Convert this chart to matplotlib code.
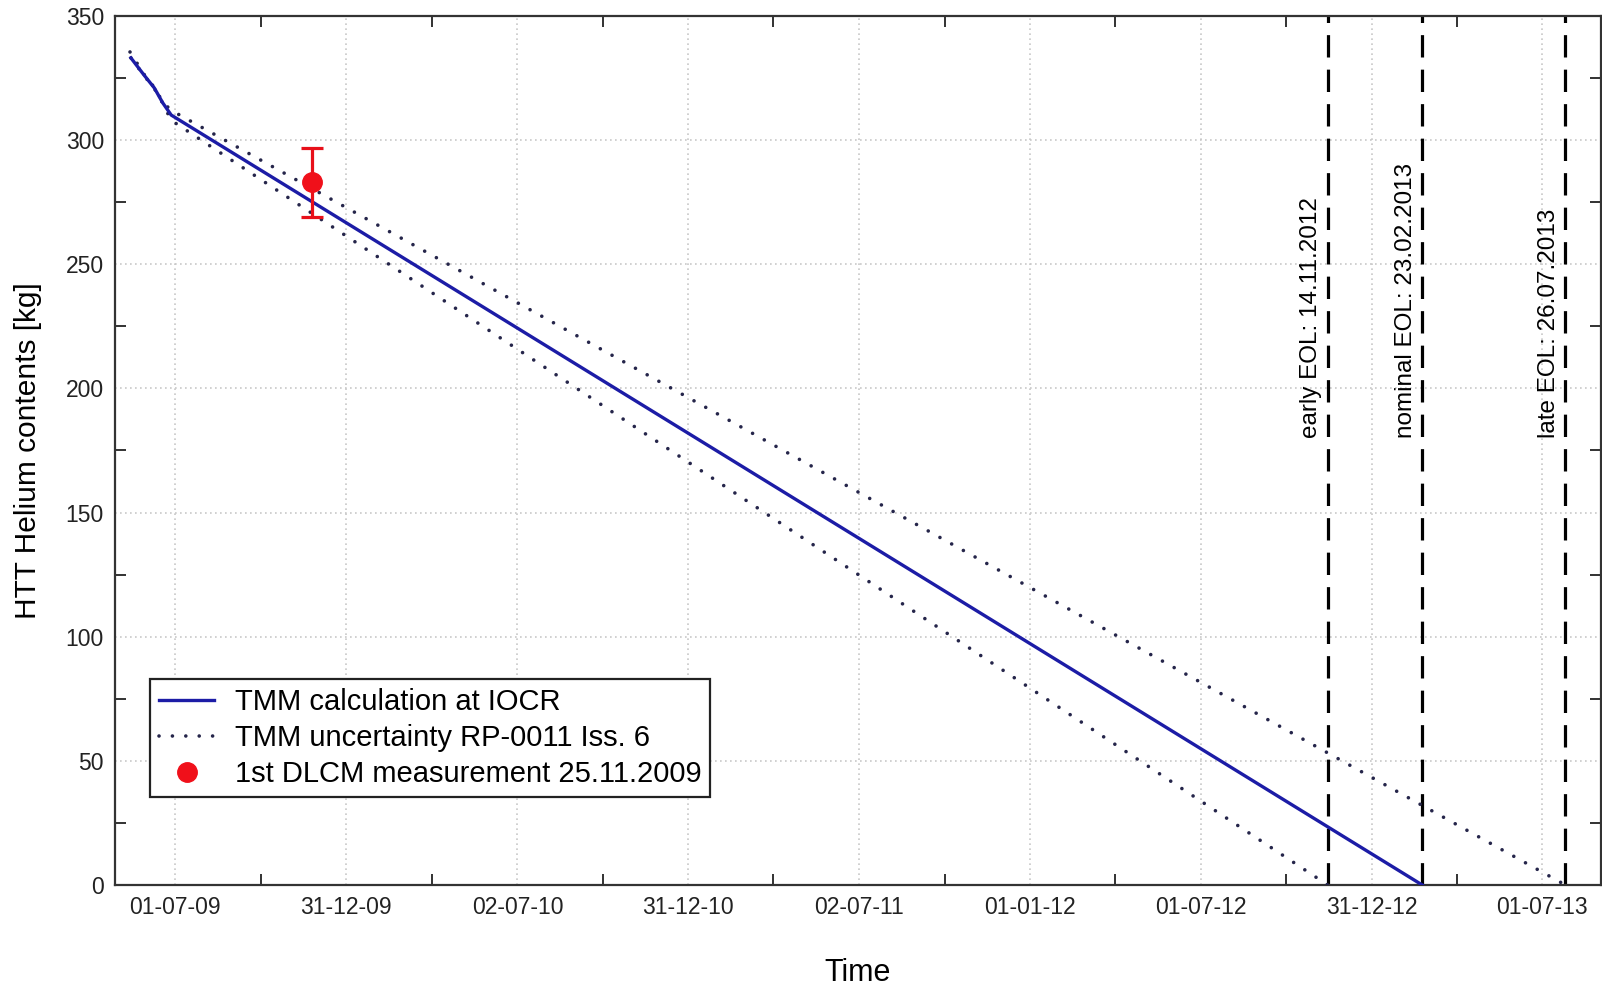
import matplotlib
matplotlib.use("Agg")
import matplotlib.pyplot as plt
import matplotlib.dates as mdates
import numpy as np
import pandas as pd

plt.rcParams["font.family"] = ["Liberation Sans", "DejaVu Sans"]

# TMM calculation (main line)
calc_dates = ["2009-05-15", "2009-05-29", "2009-06-09", "2009-06-18", "2009-06-27", "2013-02-23"]
calc_values = [333.1, 326.2, 321.0, 315.0, 310.1, 0.0]

# uncertainty band (dotted)
upper_dates = ["2009-05-14", "2009-05-29", "2009-06-09", "2009-06-18", "2009-06-27", "2013-07-26"]
upper_values = [335.5, 326.5, 321.2, 315.3, 312.0, 0.0]
lower_dates = ["2009-05-15", "2009-05-29", "2009-06-09", "2009-06-18", "2009-06-27", "2012-11-14"]
lower_values = [333.1, 326.0, 320.8, 314.8, 308.0, 0.0]

# DLCM measurement
meas_date = "2009-11-25"
meas_value = 283.0
meas_err = 14.0

# end of life markers
eol_dates = ["2012-11-14", "2013-02-23", "2013-07-26"]
eol_labels = ["early EOL: 14.11.2012", "nominal EOL: 23.02.2013", "late EOL: 26.07.2013"]

tick_dates = ["2009-07-01", "2009-12-31", "2010-07-02", "2010-12-31", "2011-07-02",
              "2012-01-01", "2012-07-01", "2012-12-31", "2013-07-01"]
tick_labels = ["01-07-09", "31-12-09", "02-07-10", "31-12-10", "02-07-11",
               "01-01-12", "01-07-12", "31-12-12", "01-07-13"]

fig = plt.figure(figsize=(16.02, 9.85), dpi=100)
ax = fig.add_axes([0.0718, 0.1015, 0.9276, 0.8823])

ax.plot(pd.to_datetime(calc_dates), calc_values, color="#1c1ca6", lw=2.4,
        label="TMM calculation at IOCR", zorder=4)
ax.plot(pd.to_datetime(upper_dates), upper_values, color="#25254a", lw=2.6,
        ls=(0, (0.01, 3.7)), dash_capstyle="round",
        label="TMM uncertainty RP-0011 Iss. 6", zorder=3)
ax.plot(pd.to_datetime(lower_dates), lower_values, color="#25254a", lw=2.6,
        ls=(0, (0.01, 3.7)), dash_capstyle="round", zorder=3)

ax.errorbar(pd.to_datetime([meas_date]), [meas_value], yerr=[meas_err], fmt="none",
            ecolor="#e8101a", elinewidth=2.3, capsize=8, capthick=2.3, zorder=5)
ax.plot(pd.to_datetime([meas_date]), [meas_value], "o", color="#f0101a", ms=14,
        label="1st DLCM measurement 25.11.2009", zorder=6)

for d, lab in zip(eol_dates, eol_labels):
    x = pd.to_datetime(d)
    ax.axvline(x, color="black", lw=2.3, ls=(0, (7, 3.8)), zorder=2)
    ax.annotate(lab, xy=(x, 180), xytext=(-4, 0), textcoords="offset points",
                rotation=90, ha="right", va="bottom", fontsize=17.5)

ax.set_xlim(pd.to_datetime("2009-04-28"), pd.to_datetime("2013-09-02"))
ax.set_ylim(0, 350)

tick_nums = mdates.date2num(pd.to_datetime(tick_dates))
ax.set_xticks(tick_nums, tick_labels)
ax.set_xticks((tick_nums[:-1] + tick_nums[1:]) / 2, minor=True)
ax.set_yticks(np.arange(0, 351, 50))
ax.set_yticks(np.arange(25, 350, 50), minor=True)

ax.tick_params(which="major", length=0, labelsize=16.5, pad=8, colors="#222222")
ax.tick_params(which="minor", direction="in", length=8, width=1.3,
               top=True, right=True, color="#222222")

ax.grid(True, which="major", color="#c8c8c8", ls=(0, (1, 2)), lw=1.2)
for s in ax.spines.values():
    s.set_linewidth(1.6)
    s.set_color("#333333")

ax.set_xlabel("Time", fontsize=22, labelpad=28)
ax.set_ylabel("HTT Helium contents [kg]", fontsize=21.5, labelpad=17)

leg = ax.legend(loc="lower left", bbox_to_anchor=(0.0236, 0.101), borderaxespad=0,
                fontsize=21, fancybox=False, framealpha=1, edgecolor="#222222",
                handlelength=1.9, borderpad=0.3, labelspacing=0.28, handletextpad=0.7)
leg.get_frame().set_linewidth(1.6)

fig.savefig("out.png", dpi=100, facecolor="white")
